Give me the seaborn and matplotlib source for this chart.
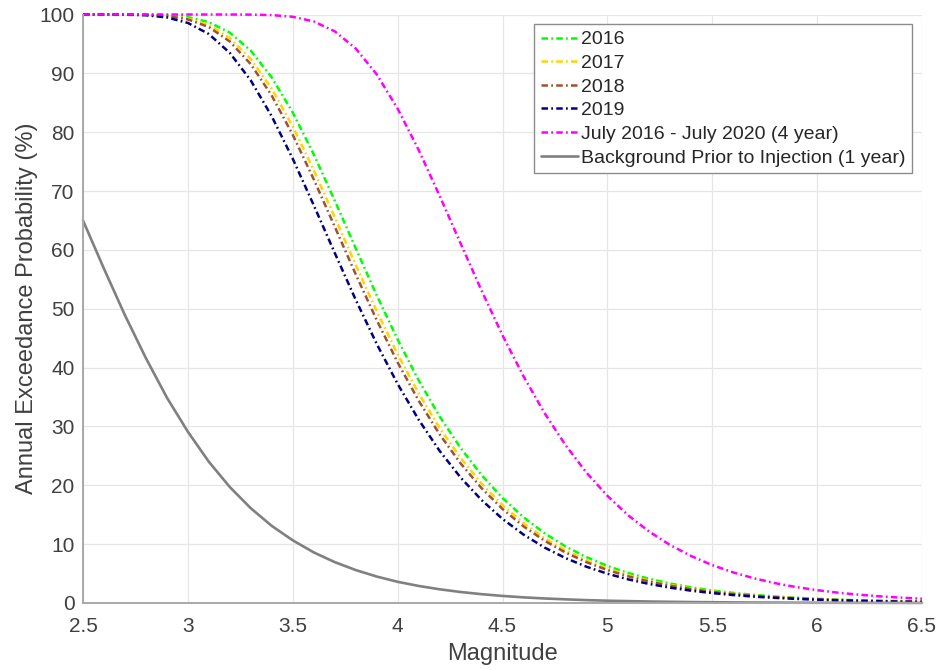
import numpy as np
import pandas as pd
import matplotlib
matplotlib.use("Agg")
import matplotlib.pyplot as plt
import seaborn as sns

magnitude = [2.5, 2.6, 2.7, 2.8, 2.9, 3.0, 3.1, 3.2, 3.3, 3.4, 3.5, 3.6, 3.7, 3.8, 3.9,
             4.0, 4.1, 4.2, 4.3, 4.4, 4.5, 4.6, 4.7, 4.8, 4.9, 5.0, 5.1, 5.2, 5.3, 5.4,
             5.5, 5.6, 5.7, 5.8, 5.9, 6.0, 6.1, 6.2, 6.3, 6.4, 6.5]

p2016 = [100.0, 100.0, 100.0, 99.98, 99.88, 99.56, 98.70, 96.92, 93.86, 89.31, 83.35,
         76.24, 68.40, 60.30, 52.32, 44.78, 37.87, 31.72, 26.35, 21.75, 17.85, 14.58,
         11.87, 9.63, 7.80, 6.30, 5.09, 4.10, 3.30, 2.65, 2.13, 1.71, 1.38, 1.10, 0.89,
         0.71, 0.57, 0.46, 0.37, 0.29, 0.24]
p2017 = [100.0, 100.0, 99.99, 99.96, 99.81, 99.33, 98.20, 96.01, 92.44, 87.38, 80.99,
         73.55, 65.58, 57.48, 49.62, 42.27, 35.63, 29.76, 24.66, 20.31, 16.64, 13.58,
         11.03, 8.95, 7.24, 5.85, 4.72, 3.80, 3.06, 2.46, 1.98, 1.59, 1.27, 1.02, 0.82,
         0.66, 0.53, 0.42, 0.34, 0.27, 0.22]
p2018 = [100.0, 100.0, 99.99, 99.94, 99.75, 99.17, 97.86, 95.41, 91.55, 86.21, 79.56,
         72.00, 63.96, 55.87, 48.10, 40.88, 34.39, 28.67, 23.73, 19.52, 15.98, 13.03,
         10.59, 8.58, 6.94, 5.60, 4.52, 3.64, 2.93, 2.35, 1.89, 1.52, 1.22, 0.98, 0.79,
         0.63, 0.51, 0.41, 0.33, 0.26, 0.21]
p2019 = [100.0, 100.0, 99.97, 99.87, 99.50, 98.57, 96.68, 93.47, 88.79, 82.69, 75.49,
         67.60, 59.50, 51.54, 44.05, 37.22, 31.16, 25.86, 21.33, 17.50, 14.29, 11.63,
         9.43, 7.64, 6.17, 4.98, 4.01, 3.23, 2.60, 2.09, 1.68, 1.35, 1.08, 0.87, 0.70,
         0.56, 0.45, 0.36, 0.29, 0.23, 0.19]
p4year = [100.0, 100.0, 100.0, 100.0, 100.0, 100.0, 100.0, 100.0, 99.98, 99.90, 99.61,
          98.82, 97.15, 94.23, 89.84, 84.01, 77.00, 69.21, 61.11, 53.10, 45.49, 38.53,
          32.30, 26.85, 22.17, 18.21, 14.88, 12.12, 9.83, 7.97, 6.44, 5.20, 4.19, 3.37,
          2.71, 2.18, 1.75, 1.41, 1.13, 0.91, 0.73]
pbackground = [65.0, 56.8, 48.9, 41.6, 34.9, 29.1, 24.0, 19.7, 16.1, 13.1, 10.65, 8.6,
               6.95, 5.6, 4.5, 3.6, 2.9, 2.33, 1.87, 1.5, 1.2, 0.96, 0.77, 0.62, 0.49,
               0.39, 0.32, 0.25, 0.20, 0.16, 0.13, 0.10, 0.08, 0.07, 0.05, 0.04, 0.035,
               0.03, 0.025, 0.02, 0.015]

series_names = ["2016", "2017", "2018", "2019",
                "July 2016 - July 2020 (4 year)",
                "Background Prior to Injection (1 year)"]
series_values = [p2016, p2017, p2018, p2019, p4year, pbackground]
colors = ["#00ff00", "#ffd400", "#a0522d", "#000080", "#ff00ff", "#808080"]

x_ticks = [2.5, 3, 3.5, 4, 4.5, 5, 5.5, 6, 6.5]
x_tick_labels = ["2.5", "3", "3.5", "4", "4.5", "5", "5.5", "6", "6.5"]
y_ticks = [0, 10, 20, 30, 40, 50, 60, 70, 80, 90, 100]

df = pd.concat([pd.DataFrame({"Magnitude": magnitude, "P": v, "Series": n})
                for n, v in zip(series_names, series_values)], ignore_index=True)

sns.set_theme(style="whitegrid")
plt.rcParams["font.family"] = ["Liberation Sans", "DejaVu Sans"]

fig = plt.figure(figsize=(9.4, 6.7), dpi=100)
ax = fig.add_axes([83 / 940, 1 - 603 / 670, (922 - 83) / 940, (603 - 14.5) / 670])
ax.set_facecolor("white")

dashdot = (2.6, 1.3, 0.7, 1.3)
dashes = {n: dashdot for n in series_names[:-1]}
dashes[series_names[-1]] = ""

sns.lineplot(data=df, x="Magnitude", y="P", hue="Series", style="Series",
             hue_order=series_names, style_order=series_names,
             palette=dict(zip(series_names, colors)), dashes=dashes,
             linewidth=1.8, legend=False, ax=ax, estimator=None, sort=False)

lines = ax.get_lines()
for ln in lines:
    ln.set_clip_on(False)
lines[-1].set_linewidth(1.9)
for ln, n in zip(lines, series_names):
    ln.set_label(n)

ax.set_xlim(2.5, 6.5)
ax.set_ylim(0, 100)
ax.set_xticks(x_ticks)
ax.set_xticklabels(x_tick_labels)
ax.set_yticks(y_ticks)

ax.grid(True, color="#e6e6e6", linewidth=0.9)
for side in ["top", "right"]:
    ax.spines[side].set_visible(False)
for side in ["left", "bottom"]:
    ax.spines[side].set_visible(True)
    ax.spines[side].set_color("#a8a8a8")
    ax.spines[side].set_linewidth(1.4)

ax.tick_params(axis="both", which="major", direction="in", length=6, width=0.9,
               color="#606060", labelsize=15, labelcolor="#404040")
ax.tick_params(axis="x", pad=10)
ax.tick_params(axis="y", pad=6)

ax.set_xlabel("Magnitude", fontsize=17, color="#404040", labelpad=5)
ax.set_ylabel("Annual Exceedance Probability (%)", fontsize=17, color="#404040",
              labelpad=1)

leg = ax.legend(handles=lines, labels=series_names, loc="upper right",
                bbox_to_anchor=(0.988, 0.984), borderaxespad=0, fontsize=14,
                frameon=True, fancybox=False, edgecolor="#8c8c8c", framealpha=1,
                handlelength=1.9, handletextpad=0.15, labelspacing=0.31,
                borderpad=0.35)
leg.get_frame().set_linewidth(1.0)
for t in leg.get_texts():
    t.set_color("#262626")

fig.savefig("out.png", dpi=100)
